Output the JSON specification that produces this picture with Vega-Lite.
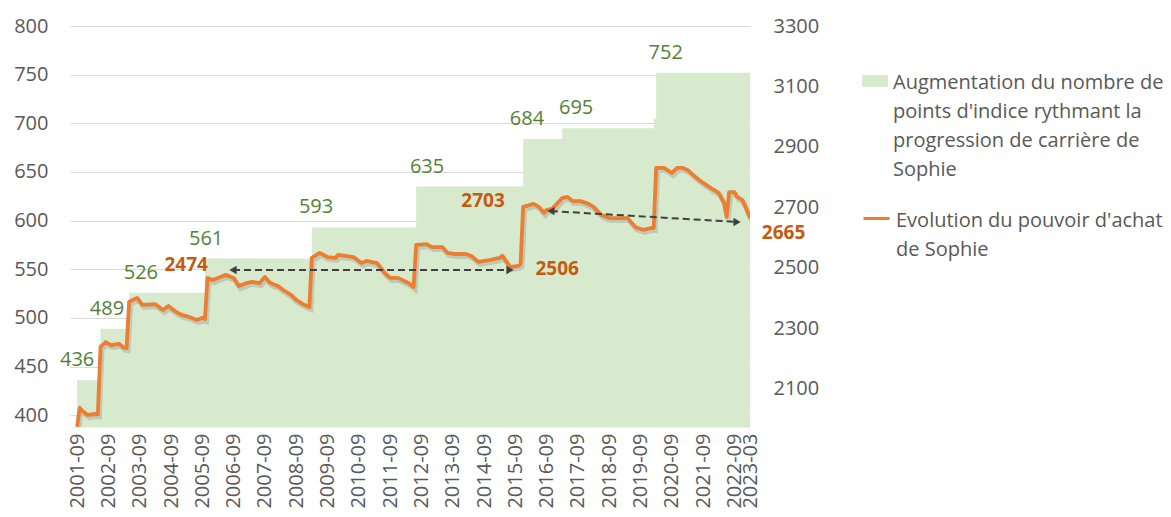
{
  "$schema": "https://vega.github.io/schema/vega-lite/v6.json",
  "width": 680,
  "height": 401,
  "autosize": "none",
  "padding": {"left": 70, "top": 26, "right": 421, "bottom": 90},
  "background": "white",
  "config": {
    "view": {"stroke": null},
    "font": "Open Sans",
    "style": {"guide-label": {"lineHeight": 29}}
  },
  "datasets": {
    "steps": [
      {"date": "2001-09-01", "v": 436},
      {"date": "2002-06-01", "v": 489},
      {"date": "2003-05-01", "v": 526},
      {"date": "2005-10-01", "v": 561},
      {"date": "2009-03-01", "v": 593},
      {"date": "2012-07-01", "v": 635},
      {"date": "2015-12-01", "v": 684},
      {"date": "2017-03-01", "v": 695},
      {"date": "2020-02-01", "v": 705},
      {"date": "2020-03-01", "v": 752},
      {"date": "2023-03-01", "v": 752}
    ],
    "stepLabels": [
      {"date": "2001-09-01", "v": 436, "t": "436"},
      {"date": "2002-08-15", "v": 489, "t": "489"},
      {"date": "2003-09-15", "v": 526, "t": "526"},
      {"date": "2005-10-15", "v": 561, "t": "561"},
      {"date": "2009-04-20", "v": 593, "t": "593"},
      {"date": "2012-11-05", "v": 635, "t": "635"},
      {"date": "2016-01-15", "v": 684, "t": "684"},
      {"date": "2017-08-10", "v": 695, "t": "695"},
      {"date": "2020-06-20", "v": 752, "t": "752"}
    ],
    "pp": [
      {"date": "2001-09-01", "v": 1975},
      {"date": "2001-10-01", "v": 2037},
      {"date": "2001-11-01", "v": 2027},
      {"date": "2002-01-01", "v": 2014},
      {"date": "2002-04-01", "v": 2017},
      {"date": "2002-05-01", "v": 2016},
      {"date": "2002-06-01", "v": 2239},
      {"date": "2002-08-01", "v": 2255},
      {"date": "2002-10-01", "v": 2245},
      {"date": "2003-01-01", "v": 2249},
      {"date": "2003-03-01", "v": 2236},
      {"date": "2003-04-01", "v": 2235},
      {"date": "2003-05-01", "v": 2388},
      {"date": "2003-08-01", "v": 2401},
      {"date": "2003-10-01", "v": 2378},
      {"date": "2004-03-01", "v": 2380},
      {"date": "2004-06-01", "v": 2361},
      {"date": "2004-08-01", "v": 2374},
      {"date": "2004-11-01", "v": 2354},
      {"date": "2005-01-01", "v": 2345},
      {"date": "2005-04-01", "v": 2338},
      {"date": "2005-07-01", "v": 2328},
      {"date": "2005-09-01", "v": 2335},
      {"date": "2005-10-01", "v": 2331},
      {"date": "2005-11-01", "v": 2467},
      {"date": "2006-01-01", "v": 2460},
      {"date": "2006-04-01", "v": 2470},
      {"date": "2006-06-01", "v": 2477},
      {"date": "2006-09-01", "v": 2467},
      {"date": "2006-11-01", "v": 2440},
      {"date": "2007-02-01", "v": 2450},
      {"date": "2007-04-01", "v": 2454},
      {"date": "2007-07-01", "v": 2450},
      {"date": "2007-09-01", "v": 2470},
      {"date": "2007-11-01", "v": 2450},
      {"date": "2008-02-01", "v": 2440},
      {"date": "2008-04-01", "v": 2427},
      {"date": "2008-07-01", "v": 2411},
      {"date": "2008-09-01", "v": 2394},
      {"date": "2008-12-01", "v": 2378},
      {"date": "2009-02-01", "v": 2371},
      {"date": "2009-03-01", "v": 2533},
      {"date": "2009-06-01", "v": 2550},
      {"date": "2009-09-01", "v": 2536},
      {"date": "2009-12-01", "v": 2533},
      {"date": "2010-01-01", "v": 2543},
      {"date": "2010-04-01", "v": 2540},
      {"date": "2010-07-01", "v": 2536},
      {"date": "2010-10-01", "v": 2516},
      {"date": "2010-12-01", "v": 2523},
      {"date": "2011-04-01", "v": 2516},
      {"date": "2011-07-01", "v": 2483},
      {"date": "2011-09-01", "v": 2467},
      {"date": "2011-12-01", "v": 2467},
      {"date": "2012-04-01", "v": 2450},
      {"date": "2012-06-01", "v": 2437},
      {"date": "2012-07-01", "v": 2576},
      {"date": "2012-11-01", "v": 2579},
      {"date": "2013-01-01", "v": 2569},
      {"date": "2013-05-01", "v": 2569},
      {"date": "2013-07-01", "v": 2550},
      {"date": "2013-10-01", "v": 2546},
      {"date": "2014-02-01", "v": 2546},
      {"date": "2014-04-01", "v": 2540},
      {"date": "2014-07-01", "v": 2520},
      {"date": "2014-11-01", "v": 2526},
      {"date": "2015-03-01", "v": 2533},
      {"date": "2015-04-01", "v": 2540},
      {"date": "2015-06-01", "v": 2516},
      {"date": "2015-07-01", "v": 2503},
      {"date": "2015-10-01", "v": 2507},
      {"date": "2015-11-01", "v": 2513},
      {"date": "2015-12-01", "v": 2702},
      {"date": "2016-04-01", "v": 2712},
      {"date": "2016-06-01", "v": 2702},
      {"date": "2016-08-01", "v": 2682},
      {"date": "2016-09-01", "v": 2692},
      {"date": "2016-11-01", "v": 2695},
      {"date": "2017-03-01", "v": 2731},
      {"date": "2017-05-01", "v": 2735},
      {"date": "2017-07-01", "v": 2721},
      {"date": "2017-10-01", "v": 2721},
      {"date": "2018-01-01", "v": 2712},
      {"date": "2018-03-01", "v": 2702},
      {"date": "2018-06-01", "v": 2675},
      {"date": "2018-09-01", "v": 2665},
      {"date": "2019-01-01", "v": 2665},
      {"date": "2019-04-01", "v": 2665},
      {"date": "2019-07-01", "v": 2635},
      {"date": "2019-10-01", "v": 2626},
      {"date": "2020-01-01", "v": 2632},
      {"date": "2020-02-01", "v": 2632},
      {"date": "2020-03-01", "v": 2831},
      {"date": "2020-06-01", "v": 2831},
      {"date": "2020-09-01", "v": 2814},
      {"date": "2020-11-01", "v": 2831},
      {"date": "2021-01-01", "v": 2831},
      {"date": "2021-03-01", "v": 2824},
      {"date": "2021-06-01", "v": 2801},
      {"date": "2021-09-01", "v": 2781},
      {"date": "2021-12-01", "v": 2764},
      {"date": "2022-03-01", "v": 2748},
      {"date": "2022-05-01", "v": 2715},
      {"date": "2022-06-01", "v": 2669},
      {"date": "2022-07-01", "v": 2751},
      {"date": "2022-09-01", "v": 2751},
      {"date": "2022-10-01", "v": 2735},
      {"date": "2022-12-01", "v": 2725},
      {"date": "2023-02-01", "v": 2685},
      {"date": "2023-03-01", "v": 2665}
    ],
    "ppLabels": [
      {"date": "2005-02-25", "v": 2510, "t": "2474"},
      {"date": "2017-01-01", "v": 2497, "t": "2506"},
      {"date": "2014-08-20", "v": 2721, "t": "2703"},
      {"date": "2024-03-27", "v": 2616, "t": "2665"}
    ],
    "arrows": [
      {"date": "2006-08-25", "v": 2493, "date2": "2015-07-01", "v2": 2493},
      {"date": "2016-10-20", "v": 2688, "date2": "2022-10-01", "v2": 2652}
    ]
  },
  "encoding": {
    "x": {
      "field": "date",
      "type": "temporal",
      "scale": {"type": "utc", "domain": ["2001-06-10", "2023-03-01"]},
      "axis": {
        "title": null,
        "values": [
          {"year": 2001, "month": 9, "date": 1, "utc": true},
          {"year": 2002, "month": 9, "date": 1, "utc": true},
          {"year": 2003, "month": 9, "date": 1, "utc": true},
          {"year": 2004, "month": 9, "date": 1, "utc": true},
          {"year": 2005, "month": 9, "date": 1, "utc": true},
          {"year": 2006, "month": 9, "date": 1, "utc": true},
          {"year": 2007, "month": 9, "date": 1, "utc": true},
          {"year": 2008, "month": 9, "date": 1, "utc": true},
          {"year": 2009, "month": 9, "date": 1, "utc": true},
          {"year": 2010, "month": 9, "date": 1, "utc": true},
          {"year": 2011, "month": 9, "date": 1, "utc": true},
          {"year": 2012, "month": 9, "date": 1, "utc": true},
          {"year": 2013, "month": 9, "date": 1, "utc": true},
          {"year": 2014, "month": 9, "date": 1, "utc": true},
          {"year": 2015, "month": 9, "date": 1, "utc": true},
          {"year": 2016, "month": 9, "date": 1, "utc": true},
          {"year": 2017, "month": 9, "date": 1, "utc": true},
          {"year": 2018, "month": 9, "date": 1, "utc": true},
          {"year": 2019, "month": 9, "date": 1, "utc": true},
          {"year": 2020, "month": 9, "date": 1, "utc": true},
          {"year": 2021, "month": 9, "date": 1, "utc": true},
          {"year": 2022, "month": 9, "date": 1, "utc": true},
          {"year": 2023, "month": 3, "date": 1, "utc": true}
        ],
        "labelExpr": "utcFormat(datum.value, '%Y-%m')",
        "labelAngle": -90,
        "labelAlign": "right",
        "labelBaseline": "middle",
        "labelOverlap": false,
        "labelFontSize": 20,
        "labelColor": "#595959",
        "labelPadding": 6,
        "grid": false,
        "ticks": false,
        "domain": true,
        "domainColor": "#eeeeee",
        "labelFlush": false
      }
    }
  },
  "layer": [
    {
      "encoding": {
        "y": {
          "field": "v",
          "type": "quantitative",
          "scale": {"domain": [388, 800], "zero": false, "nice": false},
          "axis": {
            "title": null,
            "orient": "left",
            "values": [400, 450, 500, 550, 600, 650, 700, 750, 800],
            "grid": true,
            "gridColor": "#d9d9d9",
            "gridWidth": 1,
            "domain": false,
            "ticks": false,
            "labelFontSize": 20,
            "labelColor": "#595959",
            "labelPadding": 22
          }
        }
      },
      "layer": [
        {
          "data": {"name": "steps"},
          "mark": {"type": "area", "interpolate": "step-after", "clip": true},
          "encoding": {
            "color": {
              "datum": "Augmentation du nombre de|points d'indice rythmant la|progression de carrière de|Sophie",
              "scale": {"range": ["#d7eacd"]},
              "legend": {
                "orient": "none",
                "legendX": 792,
                "legendY": 34,
                "title": null,
                "symbolType": "M-1,0.165H1V1.065H-1Z",
                "symbolSize": 676,
                "symbolStrokeWidth": 0,
                "labelExpr": "split(datum.label, '|')",
                "labelBaseline": "top",
                "labelFontSize": 20,
                "labelColor": "#595959",
                "labelOffset": 5,
                "labelLimit": 400
              }
            }
          }
        },
        {
          "data": {"name": "stepLabels"},
          "mark": {"type": "text", "fontSize": 20, "color": "#548235", "align": "center", "baseline": "middle", "dy": -20},
          "encoding": {"text": {"field": "t"}}
        }
      ]
    },
    {
      "encoding": {
        "y": {
          "field": "v",
          "type": "quantitative",
          "scale": {"domain": [1974, 3300], "zero": false, "nice": false},
          "axis": {
            "title": null,
            "orient": "right",
            "format": "d",
            "values": [2100, 2300, 2500, 2700, 2900, 3100, 3300],
            "grid": false,
            "domain": false,
            "ticks": false,
            "labelFontSize": 20,
            "labelColor": "#595959",
            "labelPadding": 23
          }
        }
      },
      "layer": [
        {
          "data": {"name": "pp"},
          "mark": {"type": "line", "clip": true, "color": "#808080", "opacity": 0.3, "strokeWidth": 5, "xOffset": 1.5, "yOffset": 2.5}
        },
        {
          "data": {"name": "pp"},
          "mark": {"type": "line", "clip": true, "strokeWidth": 3.8, "strokeJoin": "round"},
          "encoding": {
            "stroke": {
              "datum": "Evolution du pouvoir d'achat|de Sophie",
              "scale": {"range": ["#ed7d31"]},
              "legend": {
                "orient": "none",
                "legendX": 792,
                "legendY": 170,
                "title": null,
                "symbolType": "M-1,0.615H1",
                "symbolSize": 676,
                "symbolStrokeWidth": 3,
                "labelExpr": "split(datum.label, '|')",
                "labelBaseline": "top",
                "labelFontSize": 20,
                "labelColor": "#595959",
                "labelOffset": 5,
                "labelLimit": 400
              }
            }
          }
        },
        {
          "data": {"name": "arrows"},
          "mark": {"type": "rule", "color": "#404040", "strokeWidth": 2, "strokeDash": [7, 4]},
          "encoding": {"x2": {"field": "date2"}, "y2": {"field": "v2"}}
        },
        {
          "data": {"name": "arrows"},
          "mark": {"type": "point", "shape": "triangle-left", "filled": true, "color": "#404040", "opacity": 1, "size": 70}
        },
        {
          "data": {"name": "arrows"},
          "mark": {"type": "point", "shape": "triangle-right", "filled": true, "color": "#404040", "opacity": 1, "size": 70},
          "encoding": {"x": {"field": "date2", "type": "temporal"}, "y": {"field": "v2", "type": "quantitative"}}
        },
        {
          "data": {"name": "ppLabels"},
          "mark": {"type": "text", "fontSize": 19, "fontWeight": "bold", "color": "#c55a11", "align": "center", "baseline": "middle"},
          "encoding": {"text": {"field": "t"}}
        }
      ]
    }
  ],
  "resolve": {"scale": {"y": "independent"}}
}
